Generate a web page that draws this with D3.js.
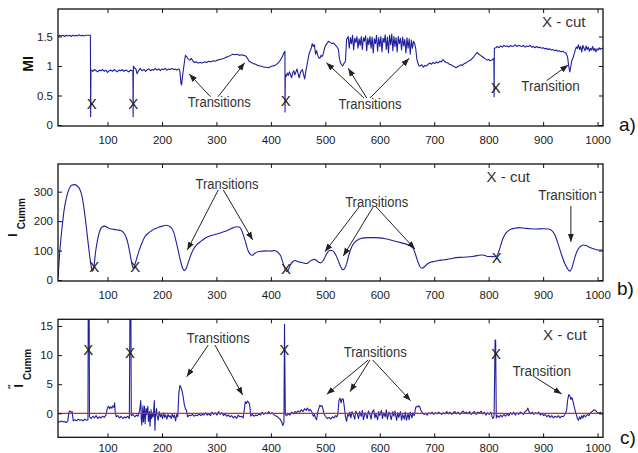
<!DOCTYPE html>
<html>
<head>
<meta charset="utf-8">
<script src="https://cdn.jsdelivr.net/npm/d3@7"></script>
<style>
  body { margin: 0; background: #fff; }
  svg { display: block; }
</style>
</head>
<body>
<div id="chart"></div>
<script>
// Tick values shared by the three panels.
const frameTicks = [100, 200, 300, 400, 500, 600, 700, 800, 900, 1000];
const miTicks = [0, 0.5, 1, 1.5];
const cummTicks = [0, 100, 200, 300];
const cumm2Ticks = [0, 5, 10, 15];

// a) mutual information per frame, [frame, MI].
const miSeries = [
  [9,1.50],[12,1.52],[15,1.51],[18,1.52],[21,1.50],[24,1.52],[27,1.51],[30,1.52],[33,1.50],[36,1.52],
  [39,1.51],[42,1.52],[45,1.51],[48,1.53],[51,1.51],[54,1.52],[57,1.51],[60,1.52],[63,1.52],[66,1.52],
  [68.5,1.52],[69,0.14],[69.5,0.92],
  [71,0.93],[73,0.91],[76,0.94],[79,0.92],[82,0.90],[85,0.93],[88,0.92],[91,0.94],[94,0.91],[97,0.93],
  [100,0.89],[103,0.92],[106,0.93],[109,0.91],[112,0.94],[115,0.92],[118,0.90],[121,0.93],[124,0.92],
  [127,0.94],[130,0.91],[133,0.93],[136,0.92],[139,0.90],[142,0.93],[145,0.92],
  [146.5,0.92],[147,0.14],[147.5,1.0],
  [149,0.97],[152,0.95],[154,0.87],[157,0.92],[160,0.96],[163,0.92],[167,0.94],[170,0.91],[173,0.94],
  [176,0.95],[179,0.92],[182,0.94],[185,0.93],[188,0.96],[191,0.93],[194,0.95],[197,0.92],[200,0.95],
  [203,0.94],[206,0.96],[209,0.93],[212,0.95],[215,0.94],[218,0.96],[221,0.94],[224,0.95],[227,0.93],
  [230,0.95],[232,0.94],
  [233,0.90],[235,0.70],[236,0.68],[238,0.85],[241,1.05],[243,1.18],[245,1.16],[248,1.12],[251,1.10],
  [254,1.13],[257,1.08],[260,1.06],[263,1.07],[266,1.05],[270,1.06],[274,1.05],[278,1.07],[282,1.06],
  [286,1.08],[290,1.07],[294,1.09],[298,1.08],[302,1.10],[306,1.11],[310,1.12],[314,1.13],[318,1.15],
  [322,1.16],[326,1.18],[330,1.20],[334,1.19],[338,1.20],[342,1.18],[346,1.19],[350,1.18],[354,1.17],
  [357,1.13],[360,1.08],[364,1.06],[368,1.04],[372,1.03],[376,1.01],[380,1.00],[384,0.99],[388,0.98],
  [392,0.98],[396,0.97],[400,0.99],[404,1.00],[408,1.01],[412,1.04],[416,1.08],[420,1.14],[423,1.20],
  [425,1.24],[425.8,1.25],[426,0.22],[426.5,0.85],
  [428,0.82],[430,0.88],[432,0.84],[434,0.90],[436,0.86],[438,0.80],[440,0.88],[442,0.92],[444,0.85],
  [446,0.90],[448,0.95],[450,0.87],[452,0.80],[454,0.88],[456,0.92],[458,0.94],[460,0.86],[462,0.78],
  [464,0.90],[466,1.00],[468,1.10],[470,1.20],[472,1.25],[474,1.30],[476,1.38],[478,1.33],[480,1.36],
  [482,1.20],[484,1.26],[486,1.18],[488,1.14],[490,1.13],[492,1.18],[494,1.16],[496,1.20],[498,1.28],
  [500,1.34],[503,1.38],[506,1.42],[509,1.40],[512,1.38],[515,1.39],[518,1.36],[521,1.33],[524,1.28],
  [526,1.12],[528,1.05],[530,1.02],[532,1.00],[534,1.04],[537,1.08],[539,1.45],
  [542,1.50],[544,1.30],[546,1.48],[548,1.38],[550,1.52],[552,1.27],[554,1.47],[556,1.40],[558,1.50],
  [560,1.30],[562,1.46],[564,1.35],[566,1.50],[568,1.28],[570,1.48],[572,1.42],[574,1.51],[576,1.26],
  [578,1.47],[580,1.36],[582,1.50],[584,1.30],[586,1.49],[588,1.22],[590,1.46],[592,1.38],[594,1.52],
  [596,1.25],[598,1.48],[600,1.33],[602,1.50],[604,1.24],[606,1.47],[608,1.40],[610,1.53],[612,1.28],
  [614,1.49],[616,1.22],[618,1.52],[620,1.36],[622,1.54],[624,1.26],[626,1.50],[628,1.33],[630,1.48],
  [632,1.24],[634,1.50],[636,1.38],[638,1.47],[640,1.27],[642,1.49],[644,1.34],[646,1.45],[648,1.22],
  [650,1.48],[652,1.30],[654,1.46],[656,1.20],[658,1.44],[660,1.30],[662,1.42],[664,1.38],[666,1.30],
  [668,1.12],[670,1.05],[672,1.00],
  [674,1.00],[677,1.02],[680,0.98],[683,1.01],[686,1.00],[689,1.03],[692,1.05],[695,1.03],[698,1.06],
  [701,1.04],[704,1.07],[707,1.05],[710,1.08],[713,1.07],[716,1.11],[719,1.08],[722,1.06],[725,1.05],
  [728,1.03],[731,1.02],[734,1.00],[737,0.99],[740,0.97],[743,0.99],[746,1.00],[749,1.02],[752,1.01],
  [755,1.04],[758,1.05],[761,1.07],[764,1.09],[767,1.10],[770,1.13],[773,1.16],[776,1.20],[779,1.23],
  [782,1.20],[785,1.18],[788,1.16],[791,1.14],[794,1.12],[797,1.10],[800,1.11],[803,1.09],[806,1.10],
  [808,1.12],[809.5,1.13],[810,0.48],[810.5,1.30],
  [813,1.31],[816,1.33],[819,1.31],[822,1.34],[825,1.32],[828,1.35],[831,1.33],[834,1.34],[837,1.32],
  [840,1.35],[843,1.33],[846,1.34],[849,1.36],[852,1.33],[855,1.35],[858,1.34],[861,1.33],[864,1.35],
  [867,1.32],[870,1.34],[873,1.33],[876,1.35],[879,1.32],[882,1.33],[885,1.31],[888,1.33],[891,1.31],
  [894,1.32],[897,1.30],[900,1.31],[903,1.29],[906,1.30],[909,1.28],[912,1.29],[915,1.27],[918,1.28],
  [921,1.26],[924,1.27],[927,1.25],[930,1.26],[933,1.24],[936,1.25],[939,1.23],[942,1.22],[945,1.15],
  [947,1.00],[949,0.90],[951,1.00],[953,1.10],[955,1.14],[957,1.20],[959,1.27],[961,1.32],[963,1.30],
  [965,1.36],[967,1.28],[969,1.33],[971,1.24],[973,1.35],[975,1.30],[977,1.26],[979,1.34],[981,1.28],
  [983,1.32],[985,1.25],[987,1.30],[989,1.27],[991,1.33],[993,1.26],[995,1.30],[997,1.24],[999,1.29],
  [1001,1.27],[1003,1.31],[1005,1.28],[1007,1.30],[1010,1.29]
];

// b) cumulative information, [frame, I_Cumm].
const cummSeries = [
  [9,5],[12,90],[16,170],[20,235],[25,283],[30,312],[34,322],[40,324],[45,318],[49,308],[53,285],
  [57,240],[61,180],[65,115],[68,70],[71,38],[73,30],[75,45],[78,95],[82,140],[86,168],[90,180],
  [95,183],[100,178],[105,174],[112,172],[118,170],[124,168],[129,162],[133,150],[137,128],[141,92],
  [144,62],[147,40],[150,50],[153,70],[158,100],[163,125],[168,145],[174,158],[180,166],[187,174],
  [194,179],[201,183],[208,186],[213,183],[218,175],[222,160],[226,130],[230,98],[234,65],[238,40],
  [241,32],[244,38],[248,58],[253,85],[258,105],[264,120],[272,132],[282,145],[292,152],[302,157],
  [312,163],[322,170],[330,177],[337,181],[342,180],[346,170],[350,150],[354,125],[358,100],[362,88],
  [366,84],[370,90],[376,96],[384,98],[392,99],[400,98],[406,100],[410,98],[414,92],[418,82],[422,60],
  [426,38],[429,28],[432,35],[436,52],[440,62],[445,66],[450,62],[455,60],[460,58],[464,56],[468,58],
  [472,64],[476,68],[480,70],[484,66],[488,60],[492,58],[496,66],[500,80],[504,94],[508,100],[512,100],
  [516,95],[520,82],[524,64],[528,46],[532,35],[535,38],[539,55],[544,90],[549,115],[554,128],[560,137],
  [566,141],[572,143],[580,144],[590,144],[600,143],[610,140],[620,136],[630,131],[640,126],[650,121],
  [657,115],[662,105],[666,85],[670,62],[674,45],[678,40],[682,45],[688,55],[694,61],[700,63],[708,66],
  [716,68],[724,70],[732,73],[740,76],[750,77],[760,78],[770,80],[780,83],[786,85],[792,84],[798,80],
  [804,80],[810,79],[815,82],[820,105],[826,140],[832,160],[840,172],[848,176],[856,178],[866,176],
  [876,174],[888,173],[900,174],[910,173],[916,168],[922,152],[928,120],[934,85],[940,55],[945,38],
  [949,30],[953,42],[958,75],[963,100],[968,113],[974,119],[980,116],[986,110],[992,106],[998,103],
  [1004,102],[1010,102]
];

// c) second derivative of the cumulative information, [frame, I''_Cumm].
const cumm2Series = [
  [9,-1.4],[12,-1.5],[15,-1.3],[18,-1.5],[21,-1.4],[24,-1.6],[27,-1.3],[29,0.2],[31,0.4],[33,0.2],
  [35,0.3],[37,-1.3],[40,-1.1],[43,-1.3],[46,-1.0],[49,-1.2],[52,-1.1],[55,-1.3],[58,-1.0],[61,-1.2],
  [64,-1.1],[64.6,20],[66.2,20],[66.8,-0.6],[70,-0.9],[73,-0.5],[76,-0.8],[79,-0.4],[82,-0.9],[85,-0.6],
  [88,-0.8],[91,-0.5],[94,-0.7],[97,-0.3],[100,1.0],[102,1.2],[104,0.8],[106,1.1],[108,0.9],[110,1.3],
  [112,1.0],[113,1.8],[114,0.2],[116,-0.6],[119,-0.4],[122,-0.8],[125,-0.5],[128,-0.9],[131,-0.6],
  [134,-0.8],[137,-0.5],[140,-0.9],[141.3,20],[142.8,20],[143.6,-0.4],[147,-0.2],[150,-0.6],[153,-0.3],
  [156,-0.5],[159,0.5],[161,2.2],[162,-1.0],[163,-2.0],[165,1.3],[166,-1.5],[168,1.2],[169,-1.8],
  [171,0.8],[172,-0.2],[174,1.2],[175,-1.4],[177,0.3],[178,-2.2],[180,0.6],[181,-0.9],[183,0.1],
  [184,-0.6],[186,2.2],[187,-2.9],[188,-0.5],[190,0.8],[191,-0.4],[193,-1.2],[195,0.3],[197,-0.6],
  [199,-0.2],[201,-0.9],[203,0.1],[205,-0.7],[207,-0.3],[209,-1.0],[211,-0.2],[213,-0.6],[215,-0.4],
  [217,-0.9],[219,-0.1],[221,-0.7],[223,-0.3],[225,-1.3],[227,-0.2],[229,-0.6],[231,3.5],[233,4.8],
  [235,4.4],[237,3.8],[239,2.8],[241,1.5],[243,0.8],[245,0.5],[247,-0.6],[250,-0.3],[253,-0.4],
  [256,-0.2],[259,-0.5],[262,-0.3],[265,-0.4],[268,-0.1],[271,-0.4],[274,-0.2],[277,-0.3],[280,0.1],
  [283,-0.3],[286,-0.1],[289,-0.4],[292,0.2],[295,-0.2],[298,0.1],[301,-0.3],[304,0.3],[307,-0.2],
  [310,0.1],[313,-0.4],[316,-0.1],[319,-0.5],[322,-0.3],[325,-0.6],[328,-0.4],[331,-0.8],[334,-0.5],
  [337,-0.9],[340,-0.3],[343,-0.6],[346,-0.5],[349,-0.8],[351,0.5],[353,2.0],[355,1.7],[357,2.1],
  [359,1.9],[361,1.5],[363,-0.5],[366,-0.2],[369,-0.5],[372,-0.3],[375,-0.4],[378,-0.1],[381,-0.3],
  [384,0.2],[387,-0.2],[390,0.1],[393,-0.1],[396,0.3],[399,-0.1],[402,0.1],[405,-0.2],[408,-0.4],
  [411,-0.5],[414,-0.8],[417,-1.0],[420,-1.5],[422,-2.1],[424,-1.6],[425,15.3],[426.5,-0.2],[429,-0.4],
  [432,-0.1],[435,-0.3],[438,0.2],[441,-0.1],[444,0.3],[447,0.1],[450,0.4],[453,0.2],[456,0.6],
  [459,0.3],[462,0.8],[465,0.5],[467,0.9],[470,0.4],[472,0.7],[475,0.3],[478,-0.5],[480,-0.2],
  [482,-0.8],[484,-1.1],[486,0.2],[488,0.8],[490,1.4],[492,1.2],[494,1.3],[496,0.6],[498,-0.2],
  [501,-0.6],[504,-0.9],[507,-0.7],[510,-1.0],[513,-0.6],[516,-0.8],[519,-0.4],[521,-0.6],[523,-0.2],
  [525,2.2],[527,2.6],[529,1.8],[531,2.5],[533,2.4],[535,1.0],[537,-0.6],[539,-1.4],[541,-0.2],
  [543,-0.5],[545,0.2],[547,-0.8],[549,0.3],[552,-0.4],[554,-1.0],[556,0.4],[559,-0.2],[561,-0.9],
  [563,0.3],[566,-0.5],[568,0.5],[570,-1.1],[573,0.1],[575,-0.3],[577,-0.9],[579,0.4],[582,-0.2],
  [584,-1.0],[586,0.2],[589,0.6],[591,-0.8],[593,-0.1],[596,-1.1],[598,0.3],[600,-0.4],[603,0.5],
  [605,-0.9],[607,0.1],[610,-0.6],[612,0.6],[614,-1.0],[617,0.2],[619,-0.3],[621,-1.1],[624,0.3],
  [626,-0.5],[628,0.4],[631,-1.2],[633,0.1],[635,-0.7],[638,0.3],[640,-1.2],[642,-0.2],[645,-1.0],
  [647,0.2],[649,-1.2],[652,0.0],[654,-1.1],[656,0.2],[659,-0.8],[661,0.1],[663,-0.4],
  [664,0.0],[666,1.0],[668,1.2],[670,1.1],[672,1.3],[674,1.0],[676,0.4],[678,0.1],[681,-0.2],[684,0.0],
  [687,-0.3],[690,0.1],[693,-0.1],[696,0.2],[699,-0.2],[702,0.1],[705,-0.1],[708,0.2],[711,0.0],
  [714,-0.2],[717,0.1],[720,-0.1],[723,0.3],[726,-0.1],[729,0.2],[732,-0.2],[735,0.1],[738,0.3],
  [741,-0.1],[744,0.2],[747,-0.2],[750,0.1],[753,0.4],[756,0.0],[759,0.2],[762,-0.1],[765,0.3],
  [768,-0.2],[771,0.1],[774,0.3],[777,-0.2],[780,0.2],[783,0.0],[786,0.4],[789,-0.1],[792,0.2],
  [795,-0.3],[798,0.1],[801,-0.2],[804,0.2],[806,-0.5],[808,-0.9],[810,-0.4],[811.8,12.6],[812.8,12.6],
  [814,-0.8],[816,-0.4],[819,-0.7],[822,-0.3],[825,-0.6],[828,-0.2],[831,-0.5],[834,-0.1],[837,-0.4],
  [840,0.1],[843,-0.2],[846,0.2],[849,-0.3],[852,0.1],[855,-0.2],[858,0.2],[861,0.0],[864,-0.2],
  [867,0.3],[870,0.5],[872,0.9],[874,0.3],[877,-0.1],[880,0.2],[883,-0.2],[886,0.1],[889,-0.1],
  [892,0.2],[895,-0.3],[898,0.0],[901,-0.4],[904,-0.2],[907,-0.6],[910,-0.3],[913,-0.7],[916,-0.4],
  [919,-0.8],[922,-0.5],[925,-0.7],[928,-0.4],[931,-0.8],[934,-0.5],[937,-0.6],[940,-0.2],[943,0.5],
  [945,2.2],[947,3.2],[949,3.0],[951,2.4],[953,2.7],[955,2.0],[957,1.2],[959,0.4],[961,-0.2],
  [963,-0.9],[965,-1.2],[967,-0.6],[969,-1.0],[971,-0.4],[973,-0.8],[975,-0.3],[978,-0.6],[981,-0.2],
  [984,-0.4],[987,0.1],[990,0.3],[993,0.6],[996,0.5],[999,0.2],[1002,0.0],[1005,0.2],[1008,-0.1],
  [1010,0.0]
];

// Cut positions marked with an X, [frame, value].
const miCuts = [[70.9, 0.368], [147.3, 0.356], [427.2, 0.407], [812.8, 0.639]];
const cummCuts = [[75.7, 45], [151, 45], [427.7, 40], [814.7, 77]];
const cumm2Cuts = [[64.6, 11.0], [141.2, 10.4], [424.6, 11.0], [813.4, 10.3]];

// Labels and arrows, in data units: text centre, then [fromFrame, fromValue, toFrame, toValue].
const miNotes = [
  {text: 'Transitions', at: [305, 0.386], arrows: [[289, 0.48, 250, 0.864], [303, 0.48, 352, 1.056]]},
  {text: 'Transitions', at: [582, 0.353], arrows: [[571, 0.458, 502, 1.056], [576, 0.458, 542, 0.961], [582, 0.458, 654, 1.13]]},
  {text: 'Transition', at: [913.5, 0.656], arrows: [[906.5, 0.751, 946, 1.017]]},
  {text: 'X - cut', at: [938, 1.751], arrows: []}
];
const cummNotes = [
  {text: 'Transitions', at: [319.4, 327], arrows: [[303.4, 306, 246.5, 102], [312.6, 306, 366.6, 136]]},
  {text: 'Transitions', at: [594.3, 266], arrows: [[562.3, 249, 499.3, 96], [588, 249, 533, 81.6], [593, 249, 664.6, 105]]},
  {text: 'Transition', at: [944.7, 289], arrows: [[951, 251.5, 951, 130]]},
  {text: 'X - cut', at: [836, 351], arrows: []}
];
const cumm2Notes = [
  {text: 'Transitions', at: [303.4, 12.94], arrows: [[285, 11.73, 245.4, 6.29], [297.3, 11.73, 348.2, 3.14]]},
  {text: 'Transitions', at: [591.7, 10.58], arrows: [[578.9, 9.16, 502.5, 3.26], [582, 9.16, 545.3, 3.71], [587, 9.16, 656.7, 2.16]]},
  {text: 'Transition', at: [897.3, 7.35], arrows: [[881.9, 6.41, 934, 3.32]]},
  {text: 'X - cut', at: [940, 13.45], arrows: []}
];

const width = 638;
const height = 453;
const left = 58;
const right = 603;
const lineColor = '#1f1f9e';
const inkColor = '#222';
const tickFont = "'Liberation Sans', Arial, sans-serif";
const noteWidths = {'Transitions': 63, 'Transition': 58.5, 'X - cut': 43.5};

const panels = [
  {name: 'a', top: 9, bottom: 126, yDomain: [-0.017, 1.966], yTicks: miTicks,
   data: miSeries, curve: d3.curveLinear, cuts: miCuts, notes: miNotes,
   tag: 'a)', tagPos: [619, 131], labelDy: 10},
  {name: 'b', top: 164, bottom: 281, yDomain: [-3.4, 394], yTicks: cummTicks,
   data: cummSeries, curve: d3.curveMonotoneX, cuts: cummCuts, notes: cummNotes,
   tag: 'b)', tagPos: [617, 295], labelDy: 10},
  {name: 'c', top: 319.3, bottom: 437.3, yDomain: [-4.12, 16.15], yTicks: cumm2Ticks,
   data: cumm2Series, curve: d3.curveLinear, cuts: cumm2Cuts, notes: cumm2Notes,
   tag: 'c)', tagPos: [620, 444], zeroLine: true, labelDy: 7}
];

let svg = d3.select('#chart').append('svg')
  .attr('width', width)
  .attr('height', height);

let defs = svg.append('defs');
defs.append('marker')
  .attr('id', 'arrowhead')
  .attr('viewBox', '0 0 10 10')
  .attr('refX', 10)
  .attr('refY', 5)
  .attr('markerWidth', 8)
  .attr('markerHeight', 8)
  .attr('markerUnits', 'userSpaceOnUse')
  .attr('orient', 'auto')
  .append('path')
    .attr('d', 'M0,1.2L10,5L0,8.8Z')
    .attr('fill', inkColor);

let x = d3.scaleLinear().domain([9, 1010]).range([left, right]);

/**
* Draws one panel: the series, the box with inward ticks, the annotations.
*/
function drawPanel(p) {
  let y = d3.scaleLinear().domain(p.yDomain).range([p.bottom, p.top]);
  let g = svg.append('g').attr('class', 'panel-' + p.name);

  defs.append('clipPath')
    .attr('id', 'clip-' + p.name)
    .append('rect')
      .attr('x', left)
      .attr('y', p.top)
      .attr('width', right - left)
      .attr('height', p.bottom - p.top);

  let line = d3.line()
    .x((d) => x(d[0]))
    .y((d) => y(d[1]))
    .curve(p.curve);

  g.append('path')
    .datum(p.data)
    .attr('clip-path', 'url(#clip-' + p.name + ')')
    .attr('fill', 'none')
    .attr('stroke', lineColor)
    .attr('stroke-width', 1.1)
    .attr('stroke-linejoin', 'round')
    .attr('d', line);

  if (p.zeroLine) {
    g.append('line')
      .attr('x1', left)
      .attr('x2', right)
      .attr('y1', y(0))
      .attr('y2', y(0))
      .attr('stroke', '#e3221b')
      .attr('stroke-width', 1.2);
  }

  // Inward ticks on all four sides, labels only bottom and left.
  let fmt = d3.format('~g');
  let axes = [
    g.append('g').attr('transform', 'translate(0,' + p.bottom + ')')
      .call(d3.axisBottom(x).tickValues(frameTicks).tickSizeInner(-4).tickSizeOuter(0)
        .tickPadding(p.labelDy).tickFormat(fmt)),
    g.append('g').attr('transform', 'translate(0,' + p.top + ')')
      .call(d3.axisTop(x).tickValues(frameTicks).tickSizeInner(-4).tickSizeOuter(0).tickFormat('')),
    g.append('g').attr('transform', 'translate(' + left + ',0)')
      .call(d3.axisLeft(y).tickValues(p.yTicks).tickSizeInner(-4).tickSizeOuter(0)
        .tickPadding(5).tickFormat(fmt)),
    g.append('g').attr('transform', 'translate(' + right + ',0)')
      .call(d3.axisRight(y).tickValues(p.yTicks).tickSizeInner(-4).tickSizeOuter(0).tickFormat(''))
  ];
  axes.forEach((a) => {
    a.select('.domain').remove();
    a.attr('font-family', tickFont).attr('font-size', 11.5);
    a.selectAll('line').attr('stroke', '#111');
    a.selectAll('text').attr('fill', '#1a1a1a');
  });

  g.append('rect')
    .attr('x', left)
    .attr('y', p.top)
    .attr('width', right - left)
    .attr('height', p.bottom - p.top)
    .attr('fill', 'none')
    .attr('stroke', '#111')
    .attr('stroke-width', 1.3);

  // X marks at the cuts.
  g.append('g')
    .selectAll('text')
    .data(p.cuts)
    .enter().append('text')
      .attr('x', (d) => x(d[0]))
      .attr('y', (d) => y(d[1]))
      .attr('dy', '0.36em')
      .attr('text-anchor', 'middle')
      .attr('font-family', tickFont)
      .attr('font-size', 15)
      .attr('fill', inkColor)
      .text('X');

  // Transition notes with their arrows.
  let notes = g.append('g');
  p.notes.forEach((n) => {
    notes.append('text')
      .attr('x', x(n.at[0]))
      .attr('y', y(n.at[1]))
      .attr('dy', '0.36em')
      .attr('text-anchor', 'middle')
      .attr('font-family', tickFont)
      .attr('font-size', 14)
      .attr('fill', '#333')
      .attr('textLength', noteWidths[n.text])
      .attr('lengthAdjust', 'spacingAndGlyphs')
      .text(n.text);
    n.arrows.forEach((a) => {
      notes.append('line')
        .attr('x1', x(a[0]))
        .attr('y1', y(a[1]))
        .attr('x2', x(a[2]))
        .attr('y2', y(a[3]))
        .attr('stroke', inkColor)
        .attr('stroke-width', 1)
        .attr('marker-end', 'url(#arrowhead)');
    });
  });

  svg.append('text')
    .attr('x', p.tagPos[0])
    .attr('y', p.tagPos[1])
    .attr('font-family', tickFont)
    .attr('font-size', 19)
    .attr('fill', '#111')
    .text(p.tag);
}

panels.forEach(drawPanel);

// Y axis titles, rotated.
svg.append('text')
  .attr('transform', 'translate(33,64) rotate(-90)')
  .attr('text-anchor', 'middle')
  .attr('font-family', tickFont)
  .attr('font-weight', 'bold')
  .attr('font-size', 14)
  .attr('fill', '#111')
  .text('MI');

let cummTitle = svg.append('text')
  .attr('transform', 'translate(17,237) rotate(-90)')
  .attr('font-family', tickFont)
  .attr('font-weight', 'bold')
  .attr('fill', '#111');
cummTitle.append('tspan').attr('font-size', 13.5).text('I');
cummTitle.append('tspan').attr('font-size', 10).attr('dx', 4).attr('dy', 8).text('Cumm');

let cumm2Title = svg.append('text')
  .attr('transform', 'translate(23,389) rotate(-90)')
  .attr('font-family', tickFont)
  .attr('font-weight', 'bold')
  .attr('fill', '#111');
cumm2Title.append('tspan').attr('font-size', 9).attr('dy', -9).text('\u2033');
cumm2Title.append('tspan').attr('font-size', 13.5).attr('dx', -3).attr('dy', 9).text('I');
cumm2Title.append('tspan').attr('font-size', 10).attr('dx', 4).attr('dy', 8).text('Cumm');
</script>
</body>
</html>
